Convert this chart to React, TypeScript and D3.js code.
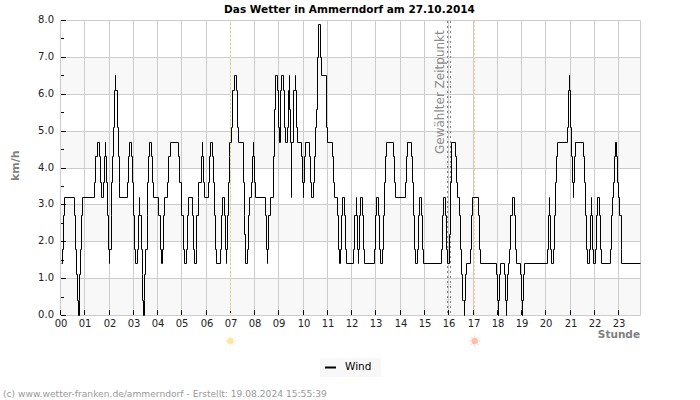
import React from "react";
import * as d3 from "d3";

const WIDTH = 700;
const HEIGHT = 400;

const hours = d3.range(0, 24);
const yMajor = [0, 1, 2, 3, 4, 5, 6, 7, 8];
const yMinor = [0.5, 1.5, 2.5, 3.5, 4.5, 5.5, 6.5, 7.5];
const bands = [0, 2, 4, 6];

// minute of day at which each wind level starts
const windMinutes = [
    2, 5, 7, 9, 34, 37, 39, 42, 45, 46, 47, 50, 52, 54, 84, 86, 91, 97, 99, 101, 107, 109, 111, 112, 114, 117, 119, 121, 122, 125,
    126, 128, 131, 133, 136, 137, 140, 143, 145, 147, 166, 168, 170, 176, 178, 181, 183, 186, 190, 192, 195, 196, 200, 202, 203, 206, 207, 208, 211, 214,
    216, 218, 220, 225, 228, 230, 243, 248, 250, 251, 254, 256, 265, 267, 271, 292, 295, 300, 303, 306, 311, 314, 316, 326, 329, 332, 336, 337, 340, 342,
    348, 350, 351, 353, 356, 365, 368, 370, 376, 378, 380, 383, 385, 396, 398, 400, 406, 408, 410, 411, 412, 415, 417, 419, 422, 425, 430, 435, 437, 440,
    452, 454, 455, 458, 462, 464, 467, 472, 474, 477, 478, 480, 482, 506, 509, 511, 512, 515, 519, 526, 529, 531, 537, 539, 542, 544, 547, 552, 554, 557,
    562, 563, 566, 567, 568, 571, 572, 576, 581, 582, 584, 585, 595, 598, 600, 601, 603, 605, 615, 618, 620, 625, 627, 630, 633, 636, 638, 643, 646, 658,
    660, 673, 674, 678, 685, 688, 690, 692, 693, 695, 698, 702, 705, 707, 725, 728, 731, 732, 735, 736, 737, 739, 741, 746, 749, 751, 776, 778, 782, 787,
    789, 791, 796, 799, 801, 804, 806, 823, 825, 828, 852, 855, 857, 868, 871, 873, 875, 878, 882, 885, 887, 892, 894, 897, 942, 945, 947, 952, 955, 957,
    962, 965, 967, 977, 979, 982, 987, 989, 992, 994, 997, 998, 999, 1002, 1003, 1013, 1016, 1018, 1033, 1035, 1038, 1077, 1080, 1082, 1083, 1085, 1087, 1097, 1100, 1102,
    1103, 1105, 1107, 1110, 1113, 1117, 1122, 1124, 1127, 1137, 1139, 1142, 1143, 1144, 1147, 1203, 1206, 1208, 1209, 1212, 1213, 1218, 1221, 1223, 1226, 1228, 1253, 1255, 1258, 1259,
    1261, 1264, 1266, 1268, 1269, 1270, 1273, 1292, 1295, 1297, 1300, 1302, 1307, 1310, 1312, 1313, 1315, 1317, 1322, 1325, 1327, 1332, 1334, 1337, 1359, 1362, 1364, 1367, 1369, 1373,
    1374, 1376, 1379, 1383, 1386, 1388, 1433,
];
const windValues = [
    1.4, 1.8, 2.7, 3.2, 2.7, 1.8, 1.1, 0.4, 0, 0.4, 1.1, 1.8, 2.7, 3.2, 3.6, 4.3, 4.7, 4.3, 3.6, 3.2, 3.6, 4.3, 4.7, 4.3, 3.6, 2.7, 1.8, 1.4, 1.8, 2.7,
    3.6, 4.3, 5.1, 6.1, 6.5, 6.1, 5.1, 4.3, 3.6, 3.2, 3.6, 4.3, 4.7, 4.3, 3.6, 2.7, 1.8, 1.4, 1.8, 2.7, 3.2, 2.7, 1.8, 1.1, 0.4, 0, 0.4, 1.1, 1.8, 2.7,
    3.6, 4.3, 4.7, 4.3, 3.6, 3.2, 2.7, 1.8, 1.4, 1.8, 2.7, 3.2, 3.6, 4.3, 4.7, 4.3, 3.6, 2.7, 1.8, 1.4, 1.8, 2.7, 3.2, 2.7, 1.8, 1.4, 1.8, 2.7, 3.2, 3.6,
    4.3, 4.7, 4.3, 3.6, 3.2, 3.6, 4.3, 4.7, 4.3, 3.6, 2.7, 1.8, 1.4, 1.8, 2.7, 3.2, 2.7, 1.8, 1.4, 1.8, 2.7, 3.6, 4.3, 4.7, 5.1, 6.1, 6.5, 6.1, 5.1, 4.7,
    3.6, 2.7, 2.2, 1.4, 1.8, 2.7, 3.2, 3.6, 4.3, 4.7, 4.3, 3.6, 3.2, 2.7, 1.8, 1.4, 1.8, 2.7, 3.2, 4.3, 5.6, 6.5, 6.1, 5.1, 4.7, 6.1, 6.5, 6.1, 5.1, 4.7,
    5.1, 6.1, 6.5, 5.6, 4.7, 3.2, 4.7, 6.1, 6.5, 6.1, 5.1, 4.7, 4.3, 3.6, 3.2, 3.6, 4.3, 4.7, 4.3, 3.6, 3.2, 3.6, 4.3, 5.1, 5.6, 7.0, 7.9, 7.0, 6.5, 5.1,
    4.7, 4.3, 3.6, 3.2, 2.7, 1.8, 1.4, 1.4, 1.8, 2.7, 3.2, 2.7, 1.8, 1.4, 1.8, 2.7, 3.2, 2.7, 1.8, 1.4, 1.8, 2.7, 3.2, 2.7, 1.8, 1.4, 1.8, 2.7, 3.2, 2.7,
    1.8, 1.4, 1.8, 2.7, 3.6, 4.3, 4.7, 4.3, 3.6, 3.2, 3.6, 4.3, 4.7, 4.3, 3.6, 2.7, 1.8, 1.4, 1.8, 2.7, 3.2, 2.7, 1.8, 1.4, 1.8, 2.7, 3.2, 2.7, 1.8, 1.4,
    2.2, 3.6, 4.7, 4.3, 3.6, 3.2, 2.7, 1.8, 1.1, 0.4, 0.4, 0, 0.4, 1.1, 1.4, 1.8, 2.7, 3.2, 2.7, 1.8, 1.4, 1.1, 0.4, 0, 0.4, 1.1, 1.4, 1.1, 0.4, 0,
    0.4, 1.1, 1.4, 1.8, 2.7, 3.2, 2.7, 1.8, 1.4, 1.1, 0.4, 0, 0.4, 1.1, 1.4, 1.8, 2.7, 3.2, 2.7, 1.8, 1.4, 1.8, 2.7, 3.6, 4.3, 4.7, 5.1, 6.1, 6.5, 6.1,
    5.1, 4.3, 3.6, 3.2, 3.6, 4.3, 4.7, 4.3, 3.6, 2.7, 1.8, 1.4, 1.8, 2.7, 3.2, 2.7, 1.8, 1.4, 1.8, 2.7, 3.2, 2.7, 1.8, 1.4, 1.8, 2.7, 3.2, 3.6, 4.3, 4.7,
    4.3, 3.6, 3.2, 2.7, 1.8, 1.4, 1.4,
];

const sunriseHour = 7;
const sunsetHour = 17.07;
const selectedMinutes = [956, 965];

const FONT = "DejaVu Sans";
const GRID = "#cccccc";

const x = d3.scaleLinear().domain([0, 1434]).range([60.5, 640.5]);
const y = d3.scaleLinear().domain([0, 8]).range([315.5, 20.5]);
const snap = (v: number) => Math.floor(v) + 0.5;

const Sun = ({cx, cy, color}: {cx: number; cy: number; color: string}) => (
    <g opacity={0.55}>
        {d3.range(8).map((i) => {
            const a = (i * Math.PI) / 4;
            return (
                <line
                    key={i}
                    x1={cx + Math.cos(a) * 3.5}
                    y1={cy + Math.sin(a) * 3.5}
                    x2={cx + Math.cos(a) * 5.5}
                    y2={cy + Math.sin(a) * 5.5}
                    stroke={color}
                    strokeWidth={0.8}
                />
            );
        })}
        <circle cx={cx} cy={cy} r={3.2} fill={color} />
    </g>
);

const App = () => {
    const points = windMinutes.map((m, i) => [m, windValues[i]] as [number, number]);
    //snap to the pixel grid so the steps stay crisp
    const windLine = d3
        .line<[number, number]>()
        .x((d) => snap(x(d[0])))
        .y((d) => snap(y(d[1])))
        .curve(d3.curveStepAfter);

    return (
        <svg
            width={WIDTH}
            height={HEIGHT}
            style={{position: "absolute", left: 0, top: 0, background: "#fff"}}
            fontFamily={FONT}
        >
            {bands.map((b) => (
                <rect key={b} x={60.5} width={580} y={snap(y(b + 1))} height={snap(y(b)) - snap(y(b + 1))} fill="#f8f8f8" />
            ))}

            {yMajor.map((v) => (
                <line key={v} x1={60.5} x2={640.5} y1={snap(y(v))} y2={snap(y(v))} stroke={GRID} />
            ))}
            {hours.map((h) => (
                <line key={h} x1={snap(x(h * 60))} x2={snap(x(h * 60))} y1={20.5} y2={315.5} stroke={GRID} />
            ))}
            <line x1={640.5} x2={640.5} y1={20.5} y2={315.5} stroke={GRID} />

            {yMajor.map((v) => (
                <line key={v} x1={61} x2={66} y1={snap(y(v))} y2={snap(y(v))} stroke="#000" />
            ))}
            {yMinor.map((v) => (
                <line key={v} x1={61} x2={64} y1={snap(y(v))} y2={snap(y(v))} stroke="#000" />
            ))}
            {hours.map((h) => (
                <line key={h} x1={snap(x(h * 60))} x2={snap(x(h * 60))} y1={310} y2={315} stroke="#000" />
            ))}

            <line x1={230.5} x2={230.5} y1={21} y2={315} stroke="#f5e88a" strokeDasharray="2 2" />
            <line x1={474.5} x2={474.5} y1={21} y2={315} stroke="#ffd08a" strokeDasharray="2 2" />
            {selectedMinutes.map((m) => (
                <line key={m} x1={snap(x(m))} x2={snap(x(m))} y1={21} y2={315} stroke="#808080" strokeDasharray="2 3" />
            ))}

            <path d={windLine(points) ?? ""} fill="none" stroke="#000" strokeWidth={1} />

            <text
                transform="translate(444,154) rotate(-90)"
                fontSize={12}
                fill="#8c8c8c"
            >
                Gewählter Zeitpunkt
            </text>

            {yMajor.map((v) => (
                <text key={v} x={54} y={y(v) + 2.5} textAnchor="end" fontSize={10} fill="#222">
                    {v.toFixed(1)}
                </text>
            ))}
            {hours.map((h) => (
                <text key={h} x={snap(x(h * 60)) + 0.5} y={327} textAnchor="middle" fontSize={10} fill="#222">
                    {String(h).padStart(2, "0")}
                </text>
            ))}

            <text x={349.5} y={12.5} textAnchor="middle" fontSize={10.5} fontWeight="bold" fill="#000">
                Das Wetter in Ammerndorf am 27.10.2014
            </text>
            <text transform="translate(19,181) rotate(-90)" fontSize={11} fontWeight="bold" fill="#808080">
                km/h
            </text>
            <text x={640} y={338} textAnchor="end" fontSize={10.5} fontWeight="bold" fill="#808080">
                Stunde
            </text>

            <Sun cx={x(sunriseHour * 60)} cy={341} color="#fbd35a" />
            <Sun cx={x(sunsetHour * 60)} cy={341} color="#ff8a65" />

            <rect x={320} y={358} width={61} height={19} fill="#f8f8f8" />
            <line x1={325} x2={336} y1={367.5} y2={367.5} stroke="#000" strokeWidth={2} />
            <text x={345} y={369.5} fontSize={10.5} fill="#000">
                Wind
            </text>

            <text x={3} y={397} fontSize={9.15} fill="#999">
                (c) www.wetter-franken.de/ammerndorf - Erstellt: 19.08.2024 15:55:39
            </text>
        </svg>
    );
};

export default App;
